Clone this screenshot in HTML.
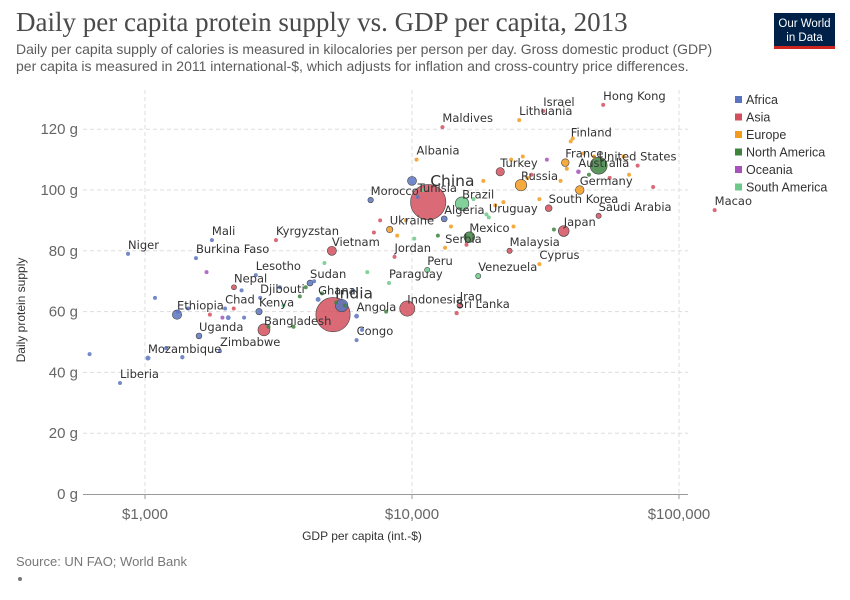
<!DOCTYPE html>
<html><head><meta charset="utf-8">
<style>
body{margin:0;background:#fff;width:850px;height:600px;overflow:hidden;font-family:"Liberation Sans",sans-serif}
svg{display:block}
</style></head>
<body>
<svg id="chart" width="850" height="600" xmlns="http://www.w3.org/2000/svg">
<text x="16" y="31" font-family="Liberation Serif, serif" font-size="27" fill="#4a4a4a">Daily per capita protein supply vs. GDP per capita, 2013</text>
<text x="16" y="54" font-size="14" fill="#5b5b5b">Daily per capita supply of calories is measured in kilocalories per person per day. Gross domestic product (GDP)</text>
<text x="16" y="71" font-size="14" fill="#5b5b5b">per capita is measured in 2011 international-$, which adjusts for inflation and cross-country price differences.</text>
<g>
<rect x="774" y="13" width="61" height="36" fill="#002147"/>
<rect x="774" y="46" width="61" height="3" fill="#ce261e"/>
<text x="804.5" y="27" font-size="11.5" fill="#fff" text-anchor="middle">Our World</text>
<text x="804.5" y="41" font-size="11.5" fill="#fff" text-anchor="middle">in Data</text>
</g>
<g id="grid"></g>
<g id="marks"></g>
<g id="labels"></g>
<g id="legend"></g>
<text x="362" y="540" font-size="12" fill="#333" text-anchor="middle">GDP per capita (int.-$)</text>
<text transform="translate(25,310) rotate(-90)" font-size="12" fill="#333" text-anchor="middle">Daily protein supply</text>
<text x="16" y="566" font-size="13" fill="#777">Source: UN FAO; World Bank</text>
<circle cx="20" cy="579" r="2" fill="#777"/>
</svg>
<script>
const regions=["Africa","Asia","Europe","North America","Oceania","South America"];
const regionColors=["#5b74c0","#d2505e","#f29b1d","#3e843f","#a652ba","#6cc98a"];
const names=["Liberia","Mozambique","Zimbabwe","Uganda","Ethiopia","Chad","Kenya","Djibouti","Nepal","Lesotho","Bangladesh","Niger","Burkina Faso","Mali","Kyrgyzstan","Vietnam","Sudan","Ghana","India","Nigeria","Angola","Congo","China","Morocco","Tunisia","Egypt","Brazil","Algeria","Ukraine","Uruguay","Mexico","Serbia","Jordan","Peru","Paraguay","Venezuela","Indonesia","Iraq","Sri Lanka","Malaysia","Cyprus","Turkey","Russia","Maldives","Albania","Israel","Lithuania","Hong Kong","Finland","France","United States","Australia","Germany","South Korea","Japan","Saudi Arabia","Macao"];
const labelled=[1,1,1,1,1,1,1,1,1,1,1,1,1,1,1,1,1,1,1,0,1,1,1,1,1,0,1,1,1,1,1,1,1,1,1,1,1,1,1,1,1,1,1,1,1,1,1,1,1,1,1,1,1,1,1,1,1];
const gdp=[806,1026,1909,1593,1318,1995,2673,2700,2154,2600,2790,864,1552,1781,3094,5010,4150,4450,5060,5450,6200,6200,11500,7000,10500,10000,15400,13200,8250,19400,16400,13300,8600,11400,8200,17700,9600,15100,14700,23200,30000,21400,25600,13000,10400,31000,25200,52000,39300,37500,50000,42000,42500,32500,37000,50000,136000];
const protein=[36.5,44.7,47,52,59,61,60,64.5,68,72,54,79,77.6,83.5,83.5,80,69.4,64,59,62,58.5,50.6,96,96.7,97.7,103,95.5,90.5,87,91,84.5,81,78,73.7,69.4,71.7,61,62,59.5,80,75.6,106,101.6,120.7,110,126,123,128,116,109,108,106,100,94,86.5,91.5,93.4];
const pop=[4,26,14,37,95,13,44,1,28,2,157,18,17,16,6,90,38,26,1280,170,25,4.5,1360,33,11,88,200,39,45,3.4,122,7,7,30,6.5,30,250,34,20,30,1.1,76,143,0.4,2.9,8,3,7,5.4,64,316,23,81,50,127,30,0.6];
const region=[0,0,0,0,0,0,0,0,1,0,1,0,0,0,1,1,0,0,1,0,0,0,1,0,0,0,5,0,2,5,3,2,1,5,5,5,1,1,1,1,2,1,2,1,2,1,2,1,2,2,3,4,2,1,1,1,1];
const extraGdp=[620,1090,1200,1330,1380,1450,1700,1750,1950,2050,2150,2300,2350,2900,3200,3300,3600,3800,4000,4300,4600,4700,5200,5600,6000,6500,6800,7200,7600,8000,8800,9500,10200,11000,12500,14000,16000,17000,18500,19000,20500,22000,23500,24000,26000,27000,28000,30000,32000,34000,36000,38000,40000,44000,46000,48000,55000,62000,65000,70000,80000];
const extraProtein=[46,64.5,48,60,45,61,73,59,58,58,61,67,58,55,68,62,55,65,68,70,66,76,63,62,67,54,73,86,90,60,85,90,84,100,85,88,82,97,103,92,95,96,110,88,111,104,105,97,110,87,103,107,117,112,105,111,104,111,105,108,101];
const extraPop=[10,15,12,8,20,2,0.5,10,1,25,3,14,11,1.5,5,0.3,2,10,4,2,3,1,2,6,6,1,1,0.4,3,0.5,9,1,4,2,2,3,1,3,5,2,10,3,4,1,4,10,1,16,1,1,2,11,1,10,5,8,5,0.5,5,0.3,0.5];
const extraRegion=[0,0,0,0,0,0,4,1,4,0,1,0,0,3,0,5,3,3,3,0,3,5,3,3,0,0,5,1,1,3,2,2,5,5,3,2,1,5,2,5,2,2,2,2,2,2,1,2,4,3,2,2,2,2,3,2,1,2,2,1,1];
const yTicks=[0,20,40,60,80,100,120];
const xTicks=[1000,10000,100000];
const xTickLabels=["$1,000","$10,000","$100,000"];

const NS="http://www.w3.org/2000/svg";
const X=v=>145+267*(Math.log10(v)-3);
const Y=v=>494-3.04*v;
const R=p=>Math.max(2,0.48*Math.sqrt(p));
function mk(tag,attrs,parent){const e=document.createElementNS(NS,tag);for(const k in attrs)e.setAttribute(k,attrs[k]);parent.appendChild(e);return e;}
const grid=document.getElementById('grid'),marks=document.getElementById('marks'),labels=document.getElementById('labels'),legend=document.getElementById('legend');
yTicks.forEach(t=>{
  if(t>0){const l=mk('line',{x1:83,x2:688,y1:Y(t),y2:Y(t),stroke:'#ddd','stroke-dasharray':'4,3'},grid);
  
  }
  const tx=mk('text',{x:78,y:Y(t)+5,'font-size':15,fill:'#666','text-anchor':'end'},grid);tx.textContent=t+' g';
  
  
});
const ax=mk('line',{x1:83,x2:688,y1:494.5,y2:494.5,stroke:'#999'},grid);


xTicks.forEach((t,i)=>{
  const l=mk('line',{x1:X(t),x2:X(t),y1:90,y2:494,stroke:'#ddd','stroke-dasharray':'4,3'},grid);
  
  
  const tk=mk('line',{x1:X(t),x2:X(t),y1:494,y2:499,stroke:'#999'},grid);
  
  
  const tx=mk('text',{x:X(t),y:519,'font-size':15,fill:'#666','text-anchor':'middle'},grid);tx.textContent=xTickLabels[i];
  
  
});
const all=[];
extraGdp.forEach((g,i)=>all.push({g,p:extraProtein[i],n:extraPop[i],r:extraRegion[i]}));
names.forEach((nm,i)=>all.push({g:gdp[i],p:protein[i],n:pop[i],r:region[i]}));
all.sort((a,b)=>b.n-a.n);
all.forEach(d=>{
  const c=mk('circle',{cx:X(d.g),cy:Y(d.p),r:R(d.n),fill:regionColors[d.r],'fill-opacity':0.85,stroke:R(d.n)>2.5?'#444':'none','stroke-width':0.6},marks);
  
  
});
names.forEach((nm,i)=>{
  if(!labelled[i])return;
  const big=(nm==='China'||nm==='India');
  const t=mk('text',{x:X(gdp[i])+(big?2:0),y:Y(protein[i])-(big?16:5),'font-size':big?15.5:11.5,fill:'#333','font-family':'DejaVu Sans, sans-serif'},labels);
  t.textContent=nm;
  
  
});
regions.forEach((rg,i)=>{
  const y=100+17.5*i;
  const s=mk('rect',{x:735,y:y-4,width:7,height:7,fill:regionColors[i]},legend);
  
  
  const t=mk('text',{x:746,y:y+4,'font-size':12.5,fill:'#333'},legend);t.textContent=rg;
  
  
});
</script>
</body></html>
